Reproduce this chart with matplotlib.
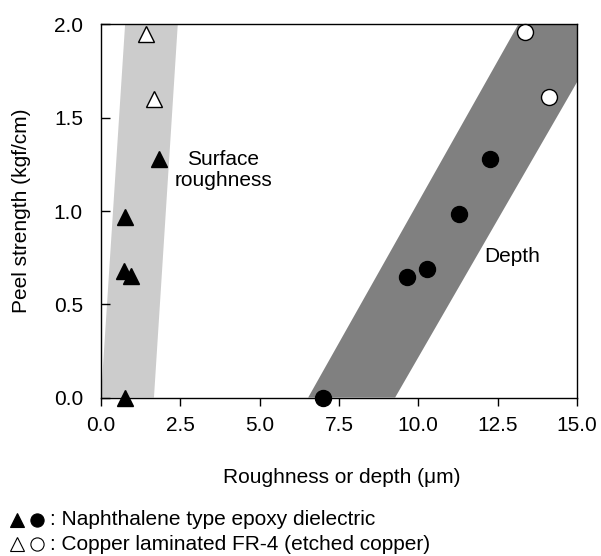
from matplotlib import pyplot as plt
from matplotlib.lines import Line2D
import numpy as np

plt.rcParams['font.family'] = ['Liberation Sans', 'DejaVu Sans']
plt.rcParams.update({'font.size': 15})

# filled triangles / open triangles: surface roughness (um) vs peel strength
tri_fill_x = [0.75, 0.76, 0.73, 0.94, 1.83]
tri_fill_y = [0.0, 0.97, 0.68, 0.65, 1.28]
tri_open_x = [1.41, 1.67]
tri_open_y = [1.95, 1.60]

# filled circles / open circles: depth (um) vs peel strength
circ_fill_x = [6.99, 9.63, 10.26, 11.27, 12.26]
circ_fill_y = [0.0, 0.645, 0.69, 0.985, 1.28]
circ_open_x = [13.37, 14.13]
circ_open_y = [1.96, 1.61]

# shaded bands (corners)
band1_x = [0.0, 1.67, 2.42, 0.76]
band1_y = [0.0, 0.0, 2.0, 2.0]
band2_x = [6.53, 9.27, 16.05, 13.15]
band2_y = [0.0, 0.0, 2.0, 2.0]

legend_labels = [": Naphthalene type epoxy dielectric",
                 ": Copper laminated FR-4 (etched copper)"]

fig = plt.figure(figsize=(6.01, 5.56), dpi=100)
ax = fig.add_axes([0.168, 0.285, 0.792, 0.671])

ax.fill(band1_x, band1_y, color='#cccccc', lw=0, zorder=1)
ax.fill(band2_x, band2_y, color='#808080', lw=0, zorder=1)

ax.plot(tri_fill_x, tri_fill_y, '^', color='black', ms=12, clip_on=False, zorder=3)
ax.plot(tri_open_x, tri_open_y, '^', mfc='white', mec='black', mew=1, ms=12, clip_on=False, zorder=3)
ax.plot(circ_fill_x, circ_fill_y, 'o', color='black', ms=11.5, clip_on=False, zorder=3)
ax.plot(circ_open_x, circ_open_y, 'o', mfc='white', mec='black', mew=1, ms=11.5, clip_on=False, zorder=3)

ax.text(3.85, 1.22, "Surface\nroughness", ha='center', va='center', linespacing=1.15)
ax.text(12.95, 0.755, "Depth", ha='center', va='center')

ax.set_xlim(0, 15)
ax.set_ylim(0, 2)
ax.set_xticks(np.arange(0, 15.1, 2.5))
ax.set_yticks(np.arange(0, 2.01, 0.5))
ax.xaxis.set_major_formatter(plt.FormatStrFormatter('%.1f'))
ax.yaxis.set_major_formatter(plt.FormatStrFormatter('%.1f'))
ax.tick_params(axis='x', direction='out', length=5.5, width=1, pad=8)
ax.tick_params(axis='y', direction='in', length=6.5, width=1, pad=13)
for s in ax.spines.values():
    s.set_linewidth(1)

ax.set_ylabel("Peel strength (kgf/cm)")
ax.yaxis.set_label_coords(-0.147, 0.5)
fig.text(0.569, 0.142, "Roughness or depth (\u03bcm)", ha='center', va='center')

# legend rows below the plot, symbols drawn as markers
rows_y = [0.065, 0.021]
for i, (yy, lab) in enumerate(zip(rows_y, legend_labels)):
    face = 'black' if i == 0 else 'white'
    fig.add_artist(Line2D([0.029], [yy], marker='^', ms=10, mfc=face, mec='black',
                          mew=0.8, ls='none', transform=fig.transFigure))
    fig.add_artist(Line2D([0.062], [yy], marker='o', ms=9.5, mfc=face, mec='black',
                          mew=0.8, ls='none', transform=fig.transFigure))
    fig.text(0.083, yy, lab, ha='left', va='center')

fig.savefig("out.png", dpi=100)
